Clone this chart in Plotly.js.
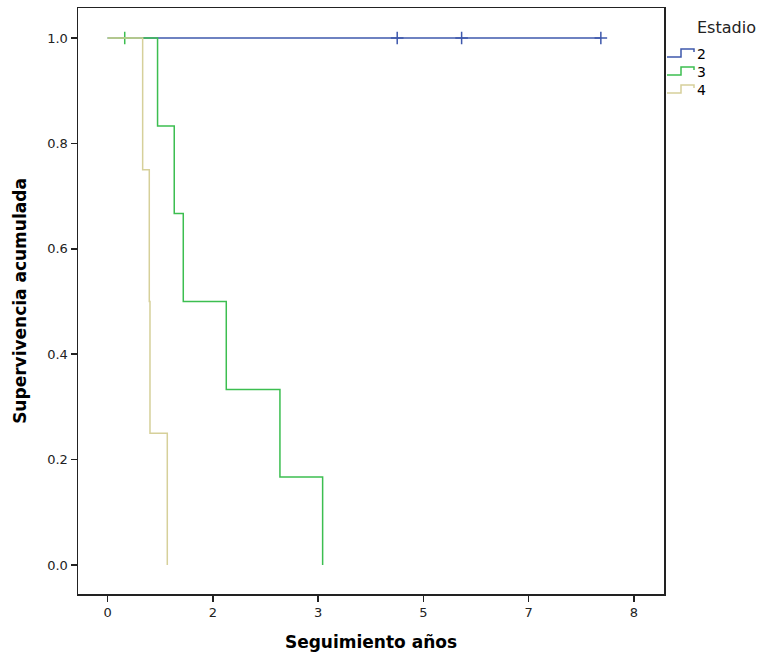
<!DOCTYPE html>
<html>
<head>
<meta charset="utf-8">
<script src="https://cdn.plot.ly/plotly-3.0.1.min.js"></script>
<style>html,body{margin:0;padding:0;background:#fff;}#chart{width:762px;height:658px;}</style>
</head>
<body>
<div id="chart"></div>
<script>
// Stage 2 (Estadio 2)
const s2Time = [0, 4.585, 5.605, 7.81];
const s2Surv = [1, 1, 1, 1];
const s2CensTime = [4.585, 5.605, 7.81];
const s2CensSurv = [1, 1, 1];
// Stage 3
const s3Time = [0, 0.27, 0.79, 1.054, 1.197, 1.878, 2.728, 3.404];
const s3Surv = [1, 1, 0.833, 0.667, 0.5, 0.333, 0.167, 0];
const s3CensTime = [0.27];
const s3CensSurv = [1];
// Stage 4
const s4Time = [0, 0.554, 0.659, 0.67, 0.944];
const s4Surv = [1, 0.75, 0.5, 0.25, 0];

const xTickVals = [0, 5/3, 10/3, 5, 20/3, 25/3];
const xTickText = ['0', '2', '3', '5', '7', '8'];
const yTickVals = [0, 0.2, 0.4, 0.6, 0.8, 1.0];

const stageNames = ['2', '3', '4'];
const colors = ['#3e58ac', '#3cbe50', '#d6d09a'];

const FONT = 'DejaVu Sans, Arial, sans-serif';
const L = 78, R = 664, T = 8, B = 594, W = 762, H = 658;
const px = v => (v - L) / (R - L);
const py = v => (B - v) / (B - T);

const traces = [
  {x: s2Time, y: s2Surv, mode: 'lines', line: {shape: 'hv', color: colors[0], width: 1.5}, showlegend: false},
  {x: s2CensTime, y: s2CensSurv, mode: 'markers', marker: {symbol: 'cross-thin', size: 9, line: {color: colors[0], width: 1.5}}, showlegend: false},
  {x: s3Time, y: s3Surv, mode: 'lines', line: {shape: 'hv', color: colors[1], width: 1.5}, showlegend: false},
  {x: s3CensTime, y: s3CensSurv, mode: 'markers', marker: {symbol: 'cross-thin', size: 9, line: {color: colors[1], width: 1.5}}, showlegend: false},
  {x: s4Time, y: s4Surv, mode: 'lines', line: {shape: 'hv', color: colors[2], width: 1.5}, showlegend: false}
];

// custom step-shaped legend icons
const shapes = [];
const annotations = [];
const itemY = [53, 71, 89];
stageNames.forEach((n, i) => {
  const yb = itemY[i] + 4, yt = itemY[i] - 4;
  const path = `M ${px(667)} ${py(yb)} L ${px(681)} ${py(yb)} L ${px(681)} ${py(yt)} L ${px(694)} ${py(yt)} L ${px(694)} ${py(yt+3)}`;
  shapes.push({type: 'path', xref: 'paper', yref: 'paper', path: path, line: {color: colors[i], width: 1.5}});
  annotations.push({xref: 'paper', yref: 'paper', x: px(695), y: py(itemY[i] + 1), xanchor: 'left', yanchor: 'middle',
    text: n, showarrow: false, font: {family: FONT, size: 14, color: '#000'}});
});
annotations.push({xref: 'paper', yref: 'paper', x: px(695), y: py(27), xanchor: 'left', yanchor: 'middle',
  text: 'Estadio', showarrow: false, font: {family: FONT, size: 16, color: '#222'}});

const layout = {
  width: W, height: H,
  margin: {l: L, r: W - R, t: T, b: H - B, pad: 0},
  paper_bgcolor: '#fff', plot_bgcolor: '#fff',
  showlegend: false,
  font: {family: FONT, size: 13, color: '#222'},
  xaxis: {
    range: [-0.47, 8.81], tickvals: xTickVals, ticktext: xTickText,
    showgrid: false, zeroline: false, showline: true, linecolor: '#222', linewidth: 1.5, mirror: true,
    ticks: 'outside', ticklen: 6, tickwidth: 1.5, tickcolor: '#222',
    tickfont: {family: FONT, size: 13, color: '#222'},
    title: {text: 'Seguimiento años', font: {size: 17, color: '#000', family: FONT, weight: 'bold'}, standoff: 17}
  },
  yaxis: {
    range: [-0.055, 1.057], tickvals: yTickVals, tickformat: '.1f',
    showgrid: false, zeroline: false, showline: true, linecolor: '#222', linewidth: 1.5, mirror: true,
    ticks: 'outside', ticklen: 6, tickwidth: 1.5, tickcolor: '#222',
    tickfont: {family: FONT, size: 13, color: '#222'},
    title: {text: 'Supervivencia acumulada', font: {size: 17, color: '#000', family: FONT, weight: 'bold'}, standoff: 16}
  },
  shapes: shapes,
  annotations: annotations
};

Plotly.newPlot('chart', traces, layout, {displayModeBar: false, staticPlot: true});
</script>
</body>
</html>
